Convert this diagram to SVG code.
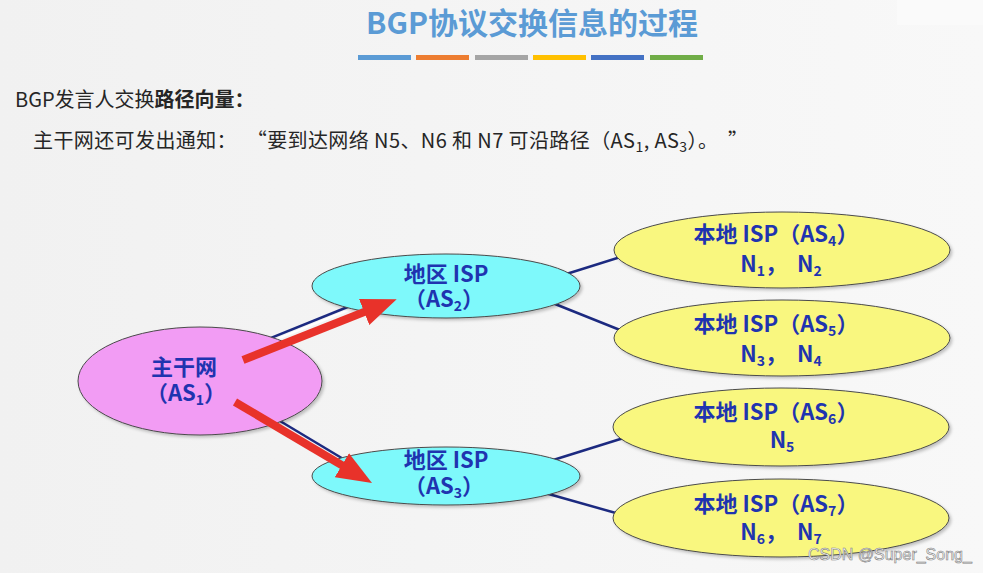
<svg xmlns="http://www.w3.org/2000/svg" width="983" height="573" viewBox="0 0 983 573">
  <defs>
    <linearGradient id="bg" x1="0" y1="0" x2="1" y2="0">
      <stop offset="0" stop-color="#f1f1f1"/>
      <stop offset="1" stop-color="#f8f8f8"/>
    </linearGradient>
    <filter id="sh" x="-10%" y="-20%" width="120%" height="150%">
      <feDropShadow dx="2" dy="2" stdDeviation="1.5" flood-color="#000" flood-opacity="0.22"/>
    </filter>
    <marker id="ah" viewBox="-2 -15 36 30" refX="0" refY="0" markerWidth="36" markerHeight="30" markerUnits="userSpaceOnUse" orient="auto">
      <path d="M-2,-14 L33,0 L-2,14 z" fill="#e8322a"/>
    </marker>
    <style>
      .title { font-family: "Noto Sans CJK SC", "Liberation Sans", sans-serif; font-weight: bold; font-size: 30px; fill: #5b9bd5; }
      .body { font-family: "Noto Sans CJK SC", "Liberation Sans", sans-serif; font-size: 20px; fill: #262626; }
      .lbl { font-family: "Noto Sans CJK SC", "Liberation Sans", sans-serif; font-weight: bold; font-size: 22px; fill: #1f34b0; text-anchor: middle; }
      .sub { font-size: 14px; }
      .conn { stroke: #1c2a80; stroke-width: 2.5; fill: none; }
      .connw { stroke: #ffffff; stroke-width: 2; fill: none; }
      .node { stroke: #4a4a4a; stroke-width: 1; filter: url(#sh); }
      .bb { fill: #f29cf4; }
      .reg { fill: #7ef9fb; }
      .loc { fill: #f9f77f; }
      .arrow { stroke: #e8322a; stroke-width: 8; fill: none; marker-end: url(#ah); }
    </style>
  </defs>

  <rect x="0" y="0" width="983" height="573" fill="url(#bg)"/>
  <rect x="897" y="0" width="86" height="25" fill="#fafafa"/>

  <!-- Title -->
  <g id="title">
    <text class="title" x="532" y="34" text-anchor="middle">BGP协议交换信息的过程</text>
    <rect x="358" y="55" width="53" height="5" fill="#5b9bd5"/>
    <rect x="416" y="55" width="53" height="5" fill="#ed7d31"/>
    <rect x="475" y="55" width="53" height="5" fill="#a5a5a5"/>
    <rect x="533" y="55" width="53" height="5" fill="#ffc000"/>
    <rect x="591" y="55" width="53" height="5" fill="#4472c4"/>
    <rect x="650" y="55" width="53" height="5" fill="#70ad47"/>
  </g>

  <g id="intro">
    <text class="body" x="15" y="107">BGP发言人交换<tspan font-weight="bold">路径向量：</tspan></text>
    <text class="body" x="33" y="148" xml:space="preserve" letter-spacing="0.4">主干网还可发出通知：  “要到达网络 N5、N6 和 N7 可沿路径（AS<tspan class="sub" dy="4">1</tspan><tspan dy="-4">, AS</tspan><tspan class="sub" dy="4">3</tspan><tspan dy="-4">）。  ”</tspan></text>
  </g>

  <!-- Connectors -->
  <g id="connectors">
    <line class="connw" x1="256" y1="347.5" x2="360" y2="305.5"/>
    <line class="conn" x1="255" y1="344.3" x2="360" y2="302"/>
    <line class="connw" x1="268" y1="418" x2="343" y2="463"/>
    <line class="conn" x1="270" y1="415" x2="345" y2="460"/>
    <line class="conn" x1="560" y1="276" x2="630" y2="254"/>
    <line class="conn" x1="550" y1="302" x2="630" y2="334"/>
    <line class="conn" x1="550" y1="461" x2="630" y2="436"/>
    <line class="conn" x1="545" y1="493" x2="630" y2="517"/>
  </g>

  <!-- Nodes -->
  <g id="as1">
    <ellipse class="node bb" cx="200" cy="381" rx="122" ry="54"/>
    <text class="lbl" x="184" y="375" font-size="23">主干网</text>
    <text class="lbl" x="186" y="401">（AS<tspan class="sub" dy="4">1</tspan><tspan dy="-4">）</tspan></text>
  </g>
  <g id="as2">
    <ellipse class="node reg" cx="446" cy="286" rx="134" ry="32"/>
    <text class="lbl" x="446" y="282">地区 ISP</text>
    <text class="lbl" x="444" y="307">（AS<tspan class="sub" dy="4">2</tspan><tspan dy="-4">）</tspan></text>
  </g>
  <g id="as3">
    <ellipse class="node reg" cx="446" cy="476" rx="134" ry="29"/>
    <text class="lbl" x="446" y="468">地区 ISP</text>
    <text class="lbl" x="444" y="494">（AS<tspan class="sub" dy="4">3</tspan><tspan dy="-4">）</tspan></text>
  </g>
  <g id="as4">
    <ellipse class="node loc" cx="782" cy="250" rx="168" ry="38"/>
    <text class="lbl" x="776" y="242">本地 ISP（AS<tspan class="sub" dy="4">4</tspan><tspan dy="-4">）</tspan></text>
    <text class="lbl" x="781" y="272" xml:space="preserve">N<tspan class="sub" dy="4">1</tspan><tspan dy="-4">，  N</tspan><tspan class="sub" dy="4">2</tspan></text>
  </g>
  <g id="as5">
    <ellipse class="node loc" cx="782" cy="338" rx="168" ry="38"/>
    <text class="lbl" x="776" y="332">本地 ISP（AS<tspan class="sub" dy="4">5</tspan><tspan dy="-4">）</tspan></text>
    <text class="lbl" x="781" y="362" xml:space="preserve">N<tspan class="sub" dy="4">3</tspan><tspan dy="-4">，  N</tspan><tspan class="sub" dy="4">4</tspan></text>
  </g>
  <g id="as6">
    <ellipse class="node loc" cx="781" cy="427" rx="168" ry="39"/>
    <text class="lbl" x="776" y="420">本地 ISP（AS<tspan class="sub" dy="4">6</tspan><tspan dy="-4">）</tspan></text>
    <text class="lbl" x="782" y="448">N<tspan class="sub" dy="4">5</tspan></text>
  </g>
  <g id="as7">
    <ellipse class="node loc" cx="781" cy="518" rx="168" ry="39"/>
    <text class="lbl" x="776" y="512">本地 ISP（AS<tspan class="sub" dy="4">7</tspan><tspan dy="-4">）</tspan></text>
    <text class="lbl" x="781" y="540" xml:space="preserve">N<tspan class="sub" dy="4">6</tspan><tspan dy="-4">，  N</tspan><tspan class="sub" dy="4">7</tspan></text>
  </g>

  <!-- Red arrows -->
  <g id="arrows">
    <line class="arrow" x1="243" y1="360" x2="366" y2="311.3"/>
    <line class="arrow" x1="235" y1="402" x2="343.6" y2="466.2"/>
  </g>

  <text x="808" y="560" font-family="Liberation Sans, sans-serif" font-size="16" fill="#ffffff" stroke="#808080" stroke-width="0.6">CSDN @Super_Song_</text>
</svg>
